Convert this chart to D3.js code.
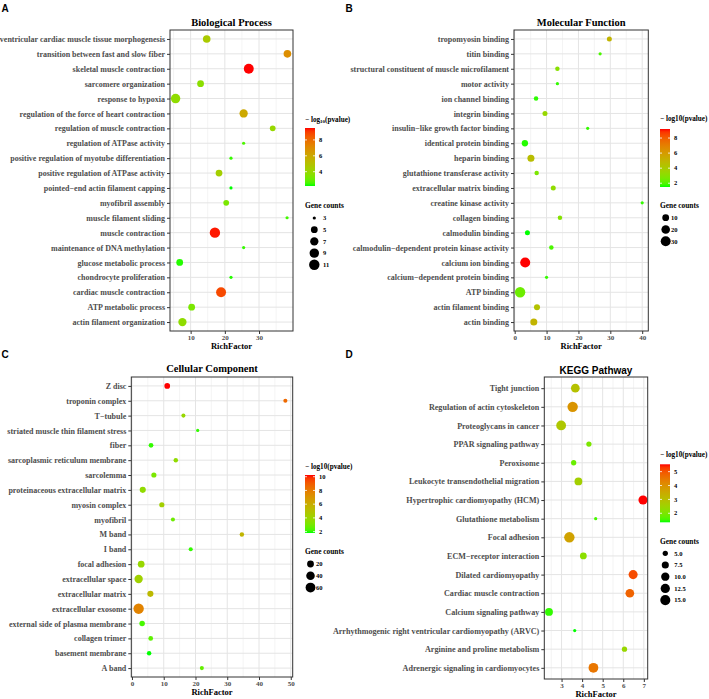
<!DOCTYPE html>
<html><head><meta charset="utf-8">
<script src="https://cdn.jsdelivr.net/npm/d3@7"></script>
<style>body{margin:0;background:#fff;}svg{display:block;}</style>
</head><body>
<svg id="chart" width="709" height="699"></svg>
<script>
// ---------- DATA ----------
const bpTerms = ["ventricular cardiac muscle tissue morphogenesis","transition between fast and slow fiber","skeletal muscle contraction","sarcomere organization","response to hypoxia","regulation of the force of heart contraction","regulation of muscle contraction","regulation of ATPase activity","positive regulation of myotube differentiation","positive regulation of ATPase activity","pointed\u2212end actin filament capping","myofibril assembly","muscle filament sliding","muscle contraction","maintenance of DNA methylation","glucose metabolic process","chondrocyte proliferation","cardiac muscle contraction","ATP metabolic process","actin filament organization"];
const bpRich  = [14.7,38.3,27.0,12.9,5.6,25.5,34.0,25.5,21.8,18.3,21.8,20.4,38.2,17.1,25.5,6.8,21.8,18.9,10.3,7.6];
const bpCount = [6,6,10,5,9,7,4,3,3,5,3,4,3,11,3,5,3,10,5,7];
const bpLogP  = [4.6,6.95,9.5,3.7,3.8,6.0,4.0,2.6,2.4,4.4,2.2,3.3,2.5,9.4,2.4,2.3,2.3,8.8,3.3,3.8];
const bpXTicks = [10,20,30];
const bpColorBreaks = [4,6,8];
const bpSizeBreaks = [3,5,7,9,11];

const mfTerms = ["tropomyosin binding","titin binding","structural constituent of muscle microfilament","motor activity","ion channel binding","integrin binding","insulin\u2212like growth factor binding","identical protein binding","heparin binding","glutathione transferase activity","extracellular matrix binding","creatine kinase activity","collagen binding","calmodulin binding","calmodulin\u2212dependent protein kinase activity","calcium ion binding","calcium\u2212dependent protein binding","ATP binding","actin filament binding","actin binding"];
const mfRich  = [29.7,26.8,13.4,13.4,6.7,9.5,22.9,3.2,5.1,6.9,12.1,40.0,14.2,4.0,11.5,3.3,10.0,1.7,7.0,6.0];
const mfCount = [4,2,3,2,3,4,2,8,11,3,4,2,3,4,3,31,2,34,7,11];
const mfLogP  = [5.0,1.9,3.0,1.7,1.65,3.4,1.7,1.6,4.6,2.7,3.2,1.7,2.9,1.5,1.9,9.2,1.7,2.4,4.4,5.0];
const mfXTicks = [0,10,20,30,40];
const mfColorBreaks = [2,4,6,8];
const mfSizeBreaks = [10,20,30];

const ccTerms = ["Z disc","troponin complex","T\u2212tubule","striated muscle thin filament stress","fiber","sarcoplasmic reticulum membrane","sarcolemma","proteinaceous extracellular matrix","myosin complex","myofibril","M band","I band","focal adhesion","extracellular space","extracellular matrix","extracellular exosome","external side of plasma membrane","collagen trimer","basement membrane","A band"];
const ccRich  = [11.1,48.3,16.2,20.7,6.0,13.8,6.9,3.4,9.4,12.9,34.6,18.5,2.9,2.1,5.8,2.1,3.2,5.9,5.4,22.0];
const ccCount = [11,4,4,3,6,5,8,14,8,4,5,4,19,37,14,70,10,6,5,4];
const ccLogP  = [10.25,8.6,3.9,2.0,2.0,3.7,3.1,3.7,4.3,2.8,5.6,2.0,3.9,4.2,5.4,7.7,2.2,2.5,1.8,2.6];
const ccXTicks = [0,10,20,30,40,50];
const ccColorBreaks = [2,4,6,8,10];
const ccSizeBreaks = [20,40,60];

const kgTerms = ["Tight junction","Regulation of actin cytoskeleton","Proteoglycans in cancer","PPAR signaling pathway","Peroxisome","Leukocyte transendothelial migration","Hypertrophic cardiomyopathy (HCM)","Glutathione metabolism","Focal adhesion","ECM\u2212receptor interaction","Dilated cardiomyopathy","Cardiac muscle contraction","Calcium signaling pathway","Arrhythmogenic right ventricular cardiomyopathy (ARVC)","Arginine and proline metabolism","Adrenergic signaling in cardiomyocytes"];
const kgRich  = [3.67,3.54,2.98,4.33,3.59,3.82,6.96,4.66,3.38,4.06,6.48,6.32,2.39,3.64,6.06,4.55];
const kgCount = [11,16,14,5,5,9,12,4,16,7,12,11,9,4,5,14];
const kgLogP  = [2.95,3.95,2.8,2.0,1.8,2.6,5.53,1.55,3.65,2.2,5.1,4.8,1.45,1.35,2.4,4.5];
const kgXTicks = [3,4,5,6,7];
const kgColorBreaks = [2,3,4,5];
const kgSizeBreaks = [5,7.5,10,12.5,15];

// ---------- DRAWING ----------
const svg = d3.select("#chart");
const SERIF = "'Liberation Serif','Times New Roman',serif";
const SANS = "'Liberation Sans',Arial,sans-serif";
const colorInterp = d3.interpolateLab("#00ff00", "#ff0000");
const RMIN = 1.6, RMAX = 5.2;
let gradId = 0;

function expand(ext, f) { const d = (ext[1]-ext[0])*(f||0.05); return [ext[0]-d, ext[1]+d]; }

function drawPanel(p) {
  const g = svg.append("g");
  const n = p.terms.length;
  const xDom = expand(d3.extent(p.rich));
  const x = d3.scaleLinear().domain(xDom).range([p.x0, p.x1]);
  const y = d3.scalePoint().domain(p.terms).range([p.y0, p.y1]).padding(0.6);
  const cExt = d3.extent(p.logp);
  const color = d3.scaleSequential(colorInterp).domain(cExt);
  const sExt = d3.extent(p.count);
  const sLin = d3.scaleLinear().domain(sExt).range([0,1]).clamp(true);
  const rad = v => RMIN + Math.sqrt(sLin(v))*(RMAX-RMIN);

  g.append("rect").attr("x",p.x0).attr("y",p.y0).attr("width",p.x1-p.x0).attr("height",p.y1-p.y0).attr("fill","#fff");
  const half = (p.xticks[1]-p.xticks[0])/2;
  const kmin = Math.ceil(xDom[0]/half), kmax = Math.floor(xDom[1]/half);
  d3.range(kmin, kmax+1).forEach(k => {
    const v = k*half, major = (k % 2 === 0);
    g.append("line").attr("x1",x(v)).attr("x2",x(v)).attr("y1",p.y0).attr("y2",p.y1)
      .attr("stroke", major ? "#E4E4E4" : "#EFEFEF").attr("stroke-width", major ? 1 : 0.7);
  });
  p.terms.forEach(t => {
    g.append("line").attr("x1",p.x0).attr("x2",p.x1).attr("y1",y(t)).attr("y2",y(t))
      .attr("stroke","#E4E4E4").attr("stroke-width",1);
  });
  g.append("g").selectAll("circle").data(d3.range(n)).join("circle")
    .attr("cx", i => x(p.rich[i])).attr("cy", i => y(p.terms[i]))
    .attr("r", i => rad(p.count[i])).attr("fill", i => color(p.logp[i]));
  g.append("rect").attr("x",p.x0).attr("y",p.y0).attr("width",p.x1-p.x0).attr("height",p.y1-p.y0)
    .attr("fill","none").attr("stroke","#333").attr("stroke-width",1);

  const xa = g.append("g").attr("transform",`translate(0,${p.y1})`)
    .call(d3.axisBottom(x).tickValues(p.xticks).tickSize(3).tickPadding(1.5).tickFormat(d3.format("d")));
  xa.attr("font-family",SERIF).attr("font-size",7).attr("font-weight","bold");
  xa.select(".domain").remove();
  xa.selectAll("line").attr("stroke","#333");
  xa.selectAll("text").attr("fill","#4D4D4D");

  const ya = g.append("g").attr("transform",`translate(${p.x0},0)`)
    .call(d3.axisLeft(y).tickSize(3).tickPadding(2));
  ya.attr("font-family",SERIF).attr("font-size",p.labelSize).attr("font-weight","bold");
  ya.select(".domain").remove();
  ya.selectAll("line").attr("stroke","#333");
  ya.selectAll("text").attr("fill","#4D4D4D");

  g.append("text").attr("x",(p.x0+p.x1)/2).attr("y",p.titleY).attr("text-anchor","middle")
    .attr("font-family",p.titleFont).attr("font-weight","bold").attr("font-size",p.titleSize).attr("fill","#000")
    .text(p.title);
  g.append("text").attr("x",(p.x0+p.x1)/2).attr("y",p.y1+18).attr("text-anchor","middle")
    .attr("font-family",SERIF).attr("font-weight","bold").attr("font-size",8.5).attr("fill","#000")
    .text("RichFactor");
  g.append("text").attr("x",p.letterX).attr("y",p.letterY).attr("font-family",SANS).attr("font-weight","bold")
    .attr("font-size",10).attr("fill","#000").text(p.letter);

  const L = p.legend;
  const ct = g.append("text").attr("x",L.x).attr("y",L.cTitleY).attr("font-family",SERIF).attr("font-weight","bold")
    .attr("font-size",7.2).attr("fill","#000");
  if (L.sub) {
    ct.append("tspan").text("\u2212 log");
    ct.append("tspan").attr("font-size",5).attr("dy",1.5).text("10");
    ct.append("tspan").attr("dy",-1.5).text("(pvalue)");
  } else {
    ct.text("\u2212 log10(pvalue)");
  }
  const bw = 10, bh = 58, bTop = L.barTop, bBot = L.barTop + bh;
  const id = "grad" + (gradId++);
  const grad = svg.append("defs").append("linearGradient").attr("id",id)
    .attr("x1",0).attr("y1",1).attr("x2",0).attr("y2",0);
  d3.range(0,1.0001,0.05).forEach(t => grad.append("stop").attr("offset",t).attr("stop-color",colorInterp(t)));
  g.append("rect").attr("x",L.x).attr("y",bTop).attr("width",bw).attr("height",bh).attr("fill",`url(#${id})`);
  const cb = d3.scaleLinear().domain(cExt).range([bBot, bTop]);
  L.colorBreaks.forEach(v => {
    const yy = cb(v);
    g.append("line").attr("x1",L.x).attr("x2",L.x+2).attr("y1",yy).attr("y2",yy).attr("stroke","#fff").attr("stroke-width",0.8);
    g.append("line").attr("x1",L.x+bw-2).attr("x2",L.x+bw).attr("y1",yy).attr("y2",yy).attr("stroke","#fff").attr("stroke-width",0.8);
    g.append("text").attr("x",L.x+bw+4).attr("y",yy+2.2).attr("font-family",SERIF).attr("font-weight","bold")
      .attr("font-size",6.5).attr("fill","#000").text(v);
  });
  g.append("text").attr("x",L.x).attr("y",L.sTitleY).attr("font-family",SERIF).attr("font-weight","bold")
    .attr("font-size",7.4).attr("fill","#000").text("Gene counts");
  L.sizeBreaks.forEach((v,i) => {
    const yy = L.sy0 + i*L.sdy;
    g.append("circle").attr("cx",L.x+L.cdx).attr("cy",yy).attr("r",rad(v)).attr("fill","#000");
    g.append("text").attr("x",L.x+L.ldx).attr("y",yy+2.2).attr("font-family",SERIF).attr("font-weight","bold")
      .attr("font-size",6.5).attr("fill","#000").text(L.sizeFmt ? L.sizeFmt(v) : v);
  });
}

drawPanel({terms:bpTerms, rich:bpRich, count:bpCount, logp:bpLogP, xticks:bpXTicks,
  x0:170, x1:293, y0:30, y1:331, labelSize:8, title:"Biological Process", titleY:25.5, titleFont:SERIF, titleSize:10.5,
  letter:"A", letterX:1.5, letterY:12,
  legend:{x:305, cTitleY:121.5, sub:true, barTop:128, colorBreaks:bpColorBreaks, sTitleY:207.5, sizeBreaks:bpSizeBreaks, sy0:218, sdy:11.7, cdx:9.3, ldx:18}});

drawPanel({terms:mfTerms, rich:mfRich, count:mfCount, logp:mfLogP, xticks:mfXTicks,
  x0:514, x1:648.3, y0:30, y1:331, labelSize:8, title:"Molecular Function", titleY:26, titleFont:SERIF, titleSize:10.5,
  letter:"B", letterX:345.5, letterY:12,
  legend:{x:660, cTitleY:121, sub:false, barTop:129, colorBreaks:mfColorBreaks, sTitleY:207.5, sizeBreaks:mfSizeBreaks, sy0:217.7, sdy:11.8, cdx:5.7, ldx:11}});

drawPanel({terms:ccTerms, rich:ccRich, count:ccCount, logp:ccLogP, xticks:ccXTicks,
  x0:131.3, x1:292.7, y0:377, y1:677, labelSize:8, title:"Cellular Component", titleY:371.8, titleFont:SERIF, titleSize:10.5,
  letter:"C", letterX:1.5, letterY:358,
  legend:{x:305, cTitleY:469, sub:false, barTop:475, colorBreaks:ccColorBreaks, sTitleY:554, sizeBreaks:ccSizeBreaks, sy0:564, sdy:11.8, cdx:5.5, ldx:11}});

drawPanel({terms:kgTerms, rich:kgRich, count:kgCount, logp:kgLogP, xticks:kgXTicks,
  x0:544.3, x1:647.7, y0:377, y1:679, labelSize:8.1, title:"KEGG Pathway", titleY:373.6, titleFont:SANS, titleSize:10,
  letter:"D", letterX:345.5, letterY:358,
  legend:{x:660, cTitleY:456.8, sub:false, barTop:464.3, colorBreaks:kgColorBreaks, sTitleY:543.5, sizeBreaks:kgSizeBreaks, sy0:553.3, sdy:11.7, cdx:5.3, ldx:14.3, sizeFmt:d3.format(".1f")}});
</script>
</body></html>
